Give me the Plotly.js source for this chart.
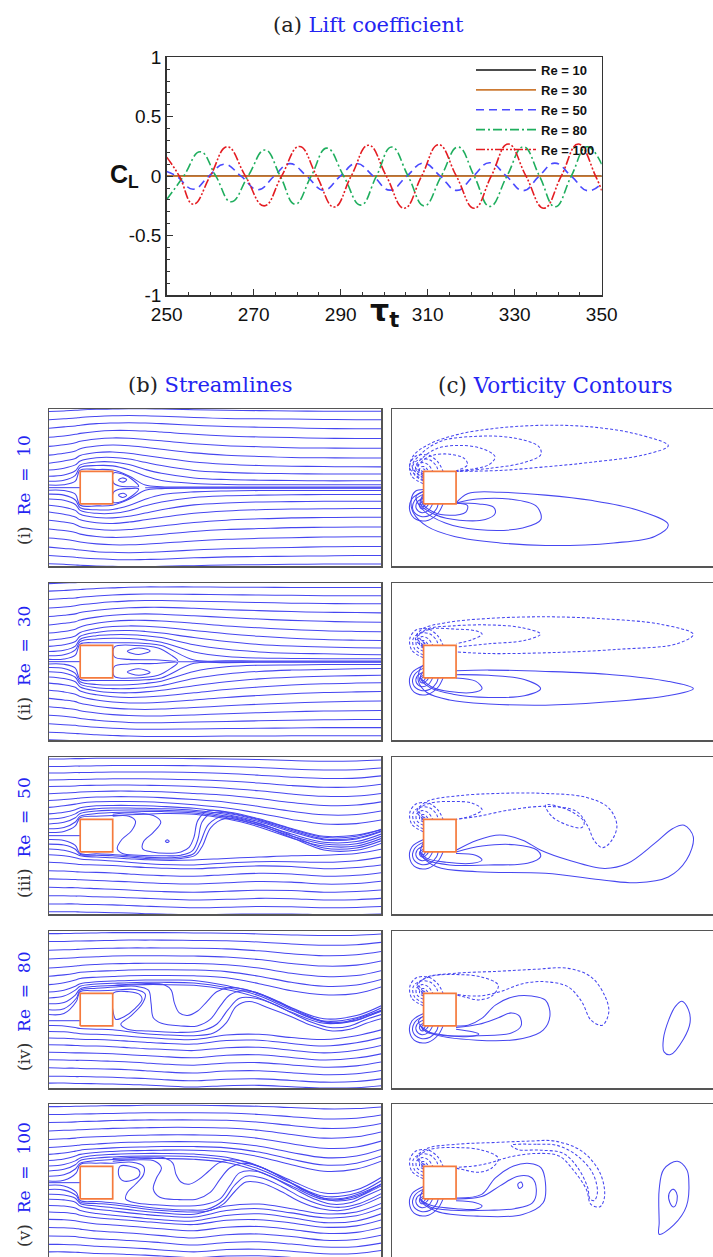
<!DOCTYPE html>
<html><head><meta charset="utf-8">
<script src="https://cdn.plot.ly/plotly-3.0.1.min.js"></script>
<style>html,body{margin:0;padding:0;background:#fff;overflow:hidden}#chart{width:713px;height:1257px}</style>
</head><body><div id="chart"></div>
<script>
// ================= (a) Lift coefficient data =================
const tau_Re10 = [250, 350];
const cl_Re10 = [0, 0];
const tau_Re30 = [250, 350];
const cl_Re30 = [0, 0];
const tau_Re50 = [250, 252.3, 256.1, 259.7, 263.2, 267.1, 271.0, 274.7, 278.3, 282.2, 286.1, 289.9, 293.6, 297.5, 301.3, 305.2, 309.0, 312.9, 316.7, 320.5, 324.2, 328.1, 332.0, 335.6, 339.2, 343.0, 346.8, 350];
const cl_Re50 = [0.04, 0, -0.11, 0, 0.1, 0, -0.115, 0, 0.105, 0, -0.118, 0, 0.107, 0, -0.118, 0, 0.11, 0, -0.12, 0, 0.113, 0, -0.122, 0, 0.11, 0, -0.123, -0.06];
const tau_Re80 = [250, 253.9, 257.7, 261.3, 264.8, 268.7, 272.6, 276.1, 279.5, 283.2, 286.8, 290.7, 294.6, 298.2, 301.7, 305.5, 309.2, 313.1, 317.0, 320.7, 324.3, 328.2, 332.0, 335.7, 339.3, 343.0, 346.6, 350];
const cl_Re80 = [-0.196, 0, 0.205, 0, -0.216, 0, 0.22, 0, -0.236, 0, 0.236, 0, -0.244, 0, 0.245, 0, -0.25, 0, 0.245, 0, -0.255, 0, 0.247, 0, -0.258, 0, 0.247, 0.1];
const tau_Re100 = [250, 252.9, 256.1, 260.0, 263.9, 268.1, 272.4, 276.4, 280.5, 284.5, 288.5, 292.4, 296.4, 300.5, 304.6, 308.6, 312.5, 316.6, 320.7, 324.6, 328.5, 332.6, 336.7, 340.7, 344.6, 348.6, 350];
const cl_Re100 = [0.16, 0, -0.236, 0, 0.247, 0, -0.25, 0, 0.25, 0, -0.26, 0, 0.26, 0, -0.27, 0, 0.265, 0, -0.27, 0, 0.27, 0, -0.27, 0, 0.27, 0, -0.12];
const seriesNames = ['Re = 10', 'Re = 30', 'Re = 50', 'Re = 80', 'Re = 100'];
const xTickVals = [250, 270, 290, 310, 330, 350];
const yTickVals = [-1, -0.5, 0, 0.5, 1];
const yTickText = ['-1', '-0.5', '0', '0.5', '1'];

// ================= panel labels =================
const rowRoman = ['(i)', '(ii)', '(iii)', '(iv)', '(v)'];
const rowRe = [10, 30, 50, 80, 100];

// ================= body (square cylinder, x/D, y/D) =================
const bodyX = [-0.5, 0.5, 0.5, -0.5, -0.5];
const bodyY = [-0.5, -0.5, 0.5, 0.5, -0.5];

// ================= (b) streamlines (x/D, y/D) =================
const knotX = [-1.46, -1.0, -0.65, -0.5, 0, 0.5, 1, 1.5, 2, 3, 4, 5, 6, 7, 8, 8.76];

// Re = 10 (steady, symmetric: upper half)
const s1Upper = [
 [0.08,0.09,0.2,0.54,0.56,0.54,0.36,0.08,0.03,0.02,0.02,0.02,0.02,0.02,0.02,0.02],
 [0.2,0.23,0.38,0.62,0.68,0.67,0.55,0.36,0.22,0.13,0.1,0.09,0.09,0.09,0.09,0.09],
 [0.35,0.39,0.52,0.7,0.79,0.79,0.71,0.56,0.44,0.3,0.25,0.23,0.22,0.21,0.21,0.21],
 [0.54,0.6,0.7,0.82,0.92,0.93,0.88,0.78,0.68,0.53,0.47,0.44,0.43,0.42,0.42,0.42],
 [0.75,0.82,0.9,0.99,1.08,1.1,1.06,0.99,0.92,0.79,0.72,0.68,0.66,0.65,0.64,0.64],
 [1.0,1.06,1.13,1.2,1.28,1.31,1.29,1.24,1.18,1.07,1.0,0.96,0.93,0.92,0.91,0.91],
 [1.27,1.32,1.38,1.43,1.5,1.53,1.52,1.48,1.44,1.35,1.29,1.26,1.23,1.22,1.21,1.21],
 [1.55,1.59,1.64,1.67,1.73,1.76,1.76,1.74,1.71,1.64,1.59,1.56,1.54,1.52,1.51,1.51],
 [1.83,1.87,1.9,1.92,1.97,1.99,2.0,1.99,1.97,1.92,1.88,1.86,1.84,1.82,1.81,1.81],
 [2.09,2.12,2.14,2.16,2.19,2.21,2.22,2.21,2.2,2.16,2.13,2.12,2.11,2.1,2.09,2.09],
 [2.34,2.36,2.38,2.39,2.41,2.42,2.43,2.43,2.42,2.4,2.38,2.37,2.36,2.35,2.35,2.35]
];
const s1EddyX = [[0.68,0.8,0.93,0.82,0.68],[0.52,0.8,1.1,1.3,1.0,0.7,0.52,0.52]];
const s1EddyY = [[0.23,0.3,0.24,0.17,0.23],[0.45,0.42,0.25,0.04,0.03,0.05,0.15,0.45]];
const s1AxisX = [[-1.46,-0.5],[1.5,8.76]];
const s1AxisY = [[0,0],[0,0]];

// Re = 30 (steady, symmetric: upper half)
const s2Upper = [
 [0.07,0.08,0.2,0.54,0.58,0.58,0.58,0.56,0.5,0.05,0.03,0.02,0.02,0.02,0.02,0.02],
 [0.18,0.21,0.36,0.62,0.7,0.72,0.71,0.67,0.6,0.3,0.16,0.11,0.1,0.09,0.09,0.09],
 [0.31,0.35,0.48,0.69,0.8,0.83,0.83,0.8,0.74,0.52,0.38,0.3,0.26,0.24,0.22,0.21],
 [0.47,0.52,0.62,0.78,0.9,0.95,0.96,0.93,0.88,0.74,0.62,0.53,0.48,0.45,0.43,0.42],
 [0.66,0.71,0.79,0.9,1.02,1.08,1.1,1.09,1.06,0.96,0.86,0.78,0.72,0.68,0.66,0.65],
 [0.88,0.93,1.0,1.07,1.18,1.24,1.27,1.27,1.25,1.18,1.1,1.04,0.99,0.95,0.93,0.92],
 [1.13,1.18,1.23,1.28,1.37,1.43,1.46,1.47,1.46,1.41,1.36,1.31,1.27,1.24,1.22,1.21],
 [1.39,1.43,1.47,1.51,1.58,1.63,1.66,1.67,1.67,1.64,1.6,1.57,1.54,1.52,1.51,1.5],
 [1.65,1.68,1.72,1.75,1.8,1.84,1.87,1.88,1.88,1.86,1.84,1.82,1.8,1.79,1.78,1.78],
 [1.91,1.94,1.96,1.98,2.02,2.05,2.07,2.08,2.08,2.07,2.06,2.05,2.04,2.03,2.03,2.03],
 [2.17,2.19,2.21,2.22,2.25,2.27,2.29,2.3,2.3,2.3,2.29,2.29,2.28,2.28,2.28,2.28],
 [2.4,2.42,2.43,2.44,2.46,2.47,2.48,2.48,2.48,2.48,2.47,2.47,2.47,2.47,2.47,2.47]
];
const s2EddyX = [[0.95,1.3,1.65,1.3,0.95],[0.55,1.2,1.9,2.3,2.5,1.8,1.0,0.55,0.55]];
const s2EddyY = [[0.32,0.42,0.33,0.22,0.32],[0.45,0.5,0.42,0.2,0.03,0.06,0.07,0.15,0.45]];
const s2AxisX = [[-1.46,-0.5],[2.5,8.76]];
const s2AxisY = [[0,0],[0,0]];

// Re = 50
const s3Upper = [
 [2.36,2.36,2.37,2.37,2.38,2.38,2.38,2.38,2.38,2.37,2.36,2.34,2.31,2.29,2.3,2.33],
 [2.13,2.13,2.14,2.14,2.15,2.16,2.16,2.16,2.16,2.15,2.13,2.1,2.05,2.02,2.03,2.08],
 [1.93,1.93,1.94,1.94,1.95,1.96,1.96,1.96,1.96,1.94,1.91,1.86,1.8,1.76,1.77,1.84],
 [1.71,1.72,1.73,1.73,1.74,1.75,1.75,1.75,1.74,1.72,1.68,1.62,1.54,1.49,1.5,1.58],
 [1.51,1.52,1.53,1.54,1.55,1.56,1.56,1.55,1.54,1.51,1.46,1.38,1.28,1.21,1.22,1.3],
 [1.29,1.31,1.33,1.34,1.36,1.37,1.37,1.36,1.35,1.3,1.24,1.14,1.02,0.93,0.94,1.04],
 [1.08,1.11,1.14,1.16,1.19,1.2,1.2,1.19,1.17,1.11,1.03,0.9,0.75,0.64,0.65,0.76],
 [0.87,0.92,0.97,1.0,1.04,1.05,1.05,1.04,1.02,0.95,0.85,0.69,0.5,0.36,0.37,0.48],
 [0.67,0.72,0.8,0.86,0.92,0.93,0.93,0.92,0.9,0.84,0.72,0.5,0.2,-0.05,-0.02,0.2],
 [0.51,0.56,0.67,0.76,0.83,0.85,0.85,0.84,0.83,0.78,0.65,0.43,0.12,-0.13,-0.1,0.12],
 [0.36,0.41,0.55,0.68,0.76,0.78,0.79,0.79,0.78,0.74,0.6,0.37,0.05,-0.2,-0.18,0.05],
 [0.21,0.25,0.42,0.6,0.68,0.71,0.73,0.74,0.74,0.7,0.56,0.32,-0.01,-0.26,-0.25,-0.02],
 [0.1,0.13,0.3,0.55,0.6,0.62,0.64,0.66,0.68,0.66,0.52,0.27,-0.07,-0.32,-0.32,-0.09]
];
const s3Lower = [
 [-0.41,-0.45,-0.55,-0.62,-0.66,-0.68,-0.71,-0.74,-0.76,-0.75,-0.7,-0.66,-0.62,-0.6,-0.55,-0.42],
 [-0.59,-0.62,-0.68,-0.72,-0.75,-0.78,-0.82,-0.86,-0.89,-0.9,-0.84,-0.8,-0.8,-0.82,-0.77,-0.66],
 [-0.82,-0.84,-0.87,-0.89,-0.9,-0.92,-0.95,-0.98,-1.0,-1.02,-0.97,-0.93,-0.95,-1.02,-0.98,-0.9],
 [-1.08,-1.09,-1.11,-1.12,-1.13,-1.15,-1.18,-1.21,-1.23,-1.25,-1.2,-1.16,-1.18,-1.25,-1.22,-1.14],
 [-1.33,-1.34,-1.35,-1.36,-1.38,-1.4,-1.42,-1.45,-1.47,-1.49,-1.45,-1.41,-1.43,-1.49,-1.47,-1.4],
 [-1.59,-1.6,-1.6,-1.61,-1.63,-1.65,-1.67,-1.7,-1.72,-1.74,-1.71,-1.68,-1.69,-1.74,-1.72,-1.67],
 [-1.85,-1.85,-1.86,-1.86,-1.88,-1.89,-1.91,-1.93,-1.95,-1.98,-1.96,-1.93,-1.94,-1.98,-1.97,-1.93],
 [-2.1,-2.1,-2.1,-2.11,-2.12,-2.13,-2.15,-2.17,-2.19,-2.22,-2.2,-2.18,-2.19,-2.22,-2.21,-2.18],
 [-2.34,-2.34,-2.34,-2.35,-2.36,-2.37,-2.38,-2.4,-2.41,-2.43,-2.42,-2.41,-2.41,-2.43,-2.43,-2.41]
];
const s3CurvesX = [
 [-1.46,-0.5],
 [-1.46,-1.0,-0.65,-0.5,0,0.5,1,1.5,2,2.6,3.0,3.2,3.45,3.9,5,6,7,8,8.76],
 [-1.46,-1.0,-0.65,-0.5,0,0.5,1,1.5,2,2.6,3.05,3.27,3.52,3.95,5,6,7,8,8.76],
 [0.5,1.0,1.2,1.08,0.78,0.64,0.8,1.3,2.0,2.6,2.95,3.12,3.25,3.55,4.2,5.0,6.0,7.0,8.0,8.76],
 [0.5,1.2,1.75,1.98,1.75,1.45,1.42,1.7,2.2,2.6,2.85,3.0,3.12,3.42,4.1,5.0,6.0,7.0,8.0,8.76],
 [2.12,2.18,2.24,2.18,2.12]
];
const s3CurvesY = [
 [0,0],
 [-0.12,-0.15,-0.3,-0.55,-0.56,-0.58,-0.62,-0.66,-0.68,-0.66,-0.55,-0.2,0.35,0.6,0.38,0.0,-0.38,-0.38,-0.16],
 [-0.26,-0.29,-0.42,-0.58,-0.6,-0.62,-0.66,-0.7,-0.72,-0.7,-0.6,-0.3,0.25,0.52,0.33,-0.06,-0.44,-0.45,-0.24],
 [0.6,0.6,0.45,0.15,-0.12,-0.4,-0.55,-0.6,-0.62,-0.6,-0.47,-0.12,0.42,0.7,0.66,0.47,0.16,-0.1,-0.07,0.14],
 [0.66,0.7,0.62,0.42,0.1,-0.18,-0.4,-0.5,-0.54,-0.5,-0.36,-0.05,0.47,0.76,0.72,0.52,0.22,-0.02,0.02,0.18],
 [-0.17,-0.13,-0.17,-0.21,-0.17]
];

// Re = 80
const s4Upper = [
 [2.34,2.34,2.35,2.35,2.36,2.37,2.37,2.37,2.37,2.36,2.35,2.33,2.3,2.28,2.29,2.33],
 [2.1,2.1,2.11,2.11,2.12,2.13,2.14,2.14,2.14,2.13,2.12,2.08,2.02,1.98,2.0,2.07],
 [1.83,1.84,1.85,1.86,1.88,1.89,1.9,1.9,1.9,1.89,1.87,1.81,1.72,1.66,1.69,1.79],
 [1.56,1.58,1.6,1.61,1.63,1.65,1.66,1.66,1.66,1.65,1.62,1.54,1.42,1.34,1.37,1.5],
 [1.28,1.31,1.34,1.36,1.39,1.41,1.42,1.43,1.43,1.42,1.38,1.28,1.12,1.02,1.05,1.2],
 [1.03,1.07,1.12,1.15,1.18,1.2,1.22,1.23,1.23,1.22,1.17,1.03,0.84,0.72,0.76,0.93],
 [0.77,0.83,0.91,0.96,1.0,1.02,1.04,1.05,1.05,1.04,0.98,0.8,0.58,0.46,0.5,0.7],
 [0.54,0.6,0.72,0.8,0.86,0.88,0.9,0.91,0.91,0.9,0.74,0.5,0.06,-0.28,-0.18,0.12],
 [0.36,0.42,0.6,0.72,0.79,0.81,0.83,0.84,0.84,0.82,0.68,0.43,-0.01,-0.35,-0.25,0.05],
 [0.18,0.22,0.45,0.64,0.72,0.74,0.76,0.77,0.77,0.75,0.62,0.36,-0.08,-0.42,-0.32,-0.03]
];
const s4Lower = [
 [-0.67,-0.68,-0.72,-0.74,-0.76,-0.78,-0.82,-0.86,-0.89,-0.92,-0.78,-0.76,-0.86,-0.92,-0.8,-0.62],
 [-0.87,-0.88,-0.9,-0.91,-0.92,-0.94,-0.97,-1.0,-1.03,-1.06,-0.95,-0.94,-1.04,-1.12,-1.02,-0.86],
 [-1.08,-1.09,-1.1,-1.11,-1.12,-1.14,-1.17,-1.2,-1.22,-1.26,-1.17,-1.16,-1.25,-1.33,-1.25,-1.1],
 [-1.31,-1.32,-1.33,-1.33,-1.34,-1.36,-1.39,-1.41,-1.44,-1.48,-1.4,-1.39,-1.47,-1.55,-1.49,-1.36],
 [-1.54,-1.55,-1.56,-1.56,-1.57,-1.59,-1.61,-1.64,-1.67,-1.71,-1.64,-1.63,-1.7,-1.77,-1.73,-1.61],
 [-1.79,-1.8,-1.8,-1.81,-1.82,-1.83,-1.85,-1.88,-1.91,-1.95,-1.89,-1.88,-1.94,-2.0,-1.97,-1.87],
 [-2.05,-2.05,-2.06,-2.06,-2.07,-2.08,-2.1,-2.12,-2.15,-2.19,-2.14,-2.13,-2.18,-2.23,-2.21,-2.13],
 [-2.26,-2.26,-2.27,-2.27,-2.28,-2.29,-2.3,-2.32,-2.34,-2.38,-2.34,-2.33,-2.37,-2.41,-2.4,-2.34]
];
const s4CurvesX = [
 [-1.46,-0.5],
 [0.52,1.0,1.35,1.4,1.2,0.85,0.6,0.52,0.52],
 [-1.46,-1.0,-0.62,-0.5,0,0.5,1.2,1.5,1.42,1.05,0.75,0.95,1.6,2.5,3.2,3.7,4.05,4.4,4.9,5.5,6.0,6.6,7.2,7.8,8.3,8.76],
 [-1.46,-1.0,-0.62,-0.5,0,0.6,1.2,1.6,1.68,1.75,2.0,2.6,3.1,3.5,3.8,4.1,4.5,5.0,5.6,6.2,6.8,7.3,7.9,8.4,8.76],
 [0.5,1.4,2.1,2.3,2.4,2.55,2.8,3.1,3.4,3.7,4.1,4.6,5.2,5.8,6.4,7.0,7.6,8.2,8.76],
 [-1.46,-1.0,-0.62,-0.5,0,0.5,1.0,1.5,2,3,3.6,4.0,4.3,4.7,5.3,6.0,6.6,7.2,7.8,8.3,8.76]
];
const s4CurvesY = [
 [-0.34,-0.34],
 [0.51,0.55,0.45,0.3,0.05,-0.22,-0.3,-0.1,0.51],
 [-0.15,-0.12,0.25,0.55,0.58,0.6,0.62,0.48,0.2,-0.2,-0.45,-0.6,-0.66,-0.7,-0.66,-0.45,0.0,0.35,0.35,0.15,-0.1,-0.38,-0.55,-0.5,-0.3,-0.15],
 [0.0,0.03,0.35,0.6,0.66,0.7,0.72,0.6,0.2,-0.25,-0.42,-0.5,-0.5,-0.3,0.1,0.45,0.58,0.5,0.25,-0.05,-0.3,-0.42,-0.36,-0.18,-0.05],
 [0.74,0.8,0.76,0.6,0.2,-0.1,-0.18,-0.05,0.25,0.55,0.68,0.62,0.4,0.12,-0.18,-0.38,-0.38,-0.22,-0.02],
 [-0.49,-0.5,-0.56,-0.58,-0.6,-0.62,-0.68,-0.74,-0.77,-0.8,-0.72,-0.4,0.1,0.25,0.05,-0.22,-0.48,-0.65,-0.6,-0.42,-0.28]
];

// Re = 100
const s5Upper = [
 [2.34,2.34,2.35,2.35,2.36,2.37,2.37,2.38,2.38,2.38,2.37,2.35,2.31,2.27,2.28,2.33],
 [2.1,2.1,2.11,2.11,2.12,2.13,2.14,2.15,2.15,2.15,2.14,2.1,2.03,1.96,1.98,2.08],
 [1.85,1.86,1.87,1.88,1.89,1.91,1.92,1.93,1.93,1.93,1.92,1.86,1.76,1.67,1.7,1.82],
 [1.59,1.61,1.62,1.63,1.65,1.67,1.68,1.69,1.7,1.7,1.68,1.61,1.48,1.37,1.41,1.56],
 [1.33,1.35,1.37,1.39,1.41,1.43,1.45,1.46,1.47,1.47,1.45,1.36,1.2,1.06,1.1,1.28],
 [1.08,1.11,1.14,1.16,1.19,1.22,1.24,1.25,1.26,1.26,1.23,1.12,0.93,0.77,0.82,1.02],
 [0.87,0.91,0.97,1.0,1.04,1.07,1.09,1.1,1.11,1.11,1.07,0.94,0.72,0.54,0.6,0.82],
 [0.68,0.73,0.82,0.87,0.93,0.96,0.98,0.99,1.0,1.0,0.95,0.8,0.55,0.35,0.42,0.66],
 [0.51,0.56,0.67,0.76,0.84,0.87,0.89,0.9,0.9,0.88,0.78,0.5,0.06,-0.32,-0.22,0.16],
 [0.36,0.41,0.55,0.68,0.76,0.79,0.81,0.82,0.82,0.8,0.7,0.42,-0.02,-0.42,-0.32,0.06],
 [0.2,0.24,0.42,0.6,0.68,0.71,0.73,0.74,0.74,0.72,0.62,0.34,-0.1,-0.52,-0.42,-0.04]
];
const s5Lower = [
 [-0.36,-0.38,-0.48,-0.64,-0.72,-0.77,-0.83,-0.89,-0.93,-0.97,-0.72,-0.66,-0.8,-0.96,-0.9,-0.64],
 [-0.51,-0.53,-0.6,-0.72,-0.82,-0.87,-0.93,-0.98,-1.02,-1.06,-0.86,-0.8,-0.93,-1.08,-1.02,-0.78],
 [-0.7,-0.72,-0.78,-0.86,-0.95,-1.0,-1.05,-1.1,-1.14,-1.18,-1.01,-0.96,-1.08,-1.23,-1.18,-0.96],
 [-0.9,-0.92,-0.96,-1.0,-1.08,-1.12,-1.16,-1.2,-1.24,-1.29,-1.16,-1.14,-1.24,-1.37,-1.33,-1.15],
 [-1.13,-1.14,-1.17,-1.2,-1.27,-1.3,-1.34,-1.38,-1.42,-1.48,-1.37,-1.35,-1.44,-1.56,-1.53,-1.38],
 [-1.38,-1.39,-1.41,-1.43,-1.49,-1.52,-1.55,-1.59,-1.63,-1.7,-1.6,-1.58,-1.66,-1.77,-1.75,-1.62],
 [-1.64,-1.65,-1.66,-1.68,-1.73,-1.75,-1.78,-1.81,-1.85,-1.92,-1.84,-1.82,-1.89,-1.98,-1.97,-1.86],
 [-1.9,-1.9,-1.91,-1.92,-1.96,-1.98,-2.0,-2.03,-2.07,-2.13,-2.06,-2.05,-2.11,-2.19,-2.18,-2.09],
 [-2.13,-2.13,-2.14,-2.15,-2.18,-2.19,-2.21,-2.23,-2.26,-2.31,-2.26,-2.25,-2.3,-2.37,-2.37,-2.3],
 [-2.34,-2.34,-2.35,-2.36,-2.38,-2.39,-2.4,-2.41,-2.43,-2.46,-2.43,-2.42,-2.46,-2.5,-2.5,-2.46]
];
const s5CurvesX = [
 [-1.46,-0.5],
 [0.73,1.05,1.3,1.32,1.12,0.82,0.68,0.73],
 [-1.46,-1.0,-0.62,-0.5,0,0.5,1.1,1.45,1.45,1.2,0.95,0.9,1.2,1.8,2.6,3.3,3.8,4.1,4.4,4.9,5.5,6.1,6.7,7.2,7.8,8.3,8.76],
 [0.5,1.2,1.8,2.0,1.85,1.75,1.95,2.5,3.1,3.5,3.8,4.1,4.5,5.0,5.6,6.2,6.8,7.3,7.9,8.4,8.76],
 [0.5,1.4,2.1,2.35,2.45,2.6,2.85,3.15,3.45,3.75,4.1,4.6,5.2,5.8,6.4,7.0,7.6,8.2,8.76],
 [-1.46,-1.0,-0.62,-0.5,0,0.5,1.0,1.5,2.0,2.8,3.4,3.9,4.25,4.6,5.1,5.7,6.3,6.9,7.5,8.1,8.76],
 [-1.46,-1.0,-0.62,-0.5,0,0.5,1.0,1.5,2.0,2.8,3.4,3.9,4.25,4.6,5.1,5.7,6.3,6.9,7.5,8.1,8.76]
];
const s5CurvesY = [
 [0,0],
 [0.51,0.5,0.4,0.22,0.08,0.06,0.25,0.51],
 [0.05,0.07,0.3,0.56,0.6,0.6,0.63,0.5,0.25,-0.05,-0.3,-0.5,-0.62,-0.68,-0.72,-0.68,-0.5,-0.1,0.3,0.35,0.12,-0.2,-0.5,-0.66,-0.62,-0.4,-0.2],
 [0.66,0.7,0.66,0.45,0.15,-0.2,-0.45,-0.52,-0.5,-0.3,0.1,0.45,0.6,0.5,0.22,-0.12,-0.42,-0.56,-0.5,-0.28,-0.1],
 [0.74,0.78,0.76,0.6,0.25,0.02,-0.05,0.1,0.35,0.6,0.7,0.64,0.42,0.1,-0.25,-0.48,-0.48,-0.3,-0.05],
 [-0.08,-0.1,-0.3,-0.55,-0.58,-0.62,-0.68,-0.75,-0.8,-0.84,-0.82,-0.55,-0.08,0.2,0.14,-0.12,-0.45,-0.68,-0.76,-0.64,-0.34],
 [-0.21,-0.23,-0.4,-0.6,-0.64,-0.68,-0.74,-0.81,-0.86,-0.9,-0.88,-0.66,-0.28,0.02,-0.02,-0.28,-0.6,-0.8,-0.86,-0.72,-0.44]
];

// ================= (c) vorticity contours (x/D, y/D) =================
// leading-edge clusters (negative at top-left corner, positive at bottom-left corner)
const cornerNegX = [[-0.5,-0.56,-0.54,-0.48,-0.44],[-0.5,-0.62,-0.6,-0.5,-0.4,-0.35],[-0.5,-0.7,-0.72,-0.55,-0.35,-0.22],[-0.5,-0.78,-0.82,-0.6,-0.3,-0.1,-0.05],[-0.5,-0.86,-0.92,-0.72,-0.35,-0.05,0.1]];
const cornerNegY = [[0.47,0.52,0.57,0.57,0.5],[0.42,0.5,0.62,0.65,0.58,0.5],[0.32,0.45,0.65,0.77,0.7,0.5],[0.2,0.4,0.7,0.88,0.85,0.65,0.5],[0.12,0.35,0.72,0.98,1.0,0.78,0.5]];
const cornerPosX = [[-0.5,-0.56,-0.54,-0.48,-0.44],[-0.5,-0.62,-0.6,-0.5,-0.4,-0.35],[-0.5,-0.7,-0.72,-0.55,-0.35,-0.22],[-0.5,-0.78,-0.82,-0.6,-0.3,-0.1,-0.05],[-0.5,-0.86,-0.92,-0.72,-0.35,-0.05,0.1]];
const cornerPosY = [[-0.47,-0.52,-0.57,-0.57,-0.5],[-0.42,-0.5,-0.62,-0.65,-0.58,-0.5],[-0.32,-0.45,-0.65,-0.77,-0.7,-0.5],[-0.2,-0.4,-0.7,-0.88,-0.85,-0.65,-0.5],[-0.12,-0.35,-0.72,-0.98,-1.0,-0.78,-0.5]];

const v1NegX = [[-0.5,-0.92,-0.8,-0.3,0.6,1.85,3.25,4.65,6.05,7.03,6.33,4.65,3.25,1.85,0.5],[-0.5,-0.85,-0.6,0.03,1.15,2.27,3.04,3.11,2.55,1.57,0.5],[-0.5,-0.75,-0.55,-0.1,0.6,1.3,1.7,1.5,0.5],[-0.5,-0.68,-0.5,-0.2,0.3,0.75,0.85,0.5]];
const v1NegY = [[0.22,0.6,1.0,1.35,1.65,1.84,1.92,1.87,1.65,1.29,1.02,0.78,0.64,0.53,0.5],[0.28,0.65,1.02,1.43,1.58,1.53,1.27,1.02,0.76,0.6,0.5],[0.35,0.62,0.9,1.2,1.3,1.2,0.95,0.7,0.52],[0.4,0.6,0.85,1.0,1.03,0.9,0.7,0.52]];
const v1PosX = [[-0.5,-0.75,-0.88,-0.81,-0.39,0.45,1.85,3.25,5.35,6.61,7.03,6.05,4.65,3.25,1.85,0.87,0.5],[-0.5,-0.73,-0.52,0.17,1.15,2.55,3.11,2.97,2.13,1.15,0.5],[-0.5,-0.6,-0.1,0.6,1.4,1.7,1.65,1.2,0.5],[-0.5,-0.55,-0.2,0.3,0.8,0.85,0.5]];
const v1PosY = [[-0.06,-0.11,-0.37,-0.78,-1.19,-1.5,-1.7,-1.78,-1.7,-1.5,-1.14,-0.68,-0.39,-0.23,-0.14,-0.18,-0.47],[-0.11,-0.27,-0.68,-1.09,-1.29,-1.24,-0.98,-0.57,-0.35,-0.35,-0.47],[-0.2,-0.5,-0.85,-1.0,-0.98,-0.8,-0.6,-0.5,-0.47],[-0.25,-0.45,-0.75,-0.85,-0.75,-0.55,-0.48]];

const v2NegX = [[-0.5,-0.75,-0.55,0.2,1.5,3.25,5.0,6.8,7.8,7.3,5.5,3.5,1.5,0.5],[-0.5,-0.7,-0.4,0.4,1.5,2.5,3.1,2.6,1.5,0.5],[-0.45,-0.65,-0.3,0.5,1.1,1.3,1.0,0.5]];
const v2NegY = [[0.45,0.7,1.0,1.2,1.33,1.38,1.32,1.15,0.84,0.55,0.38,0.28,0.25,0.3],[0.5,0.75,1.0,1.1,1.13,1.05,0.85,0.65,0.55,0.45],[0.55,0.8,1.0,1.0,0.95,0.85,0.68,0.55]];
const v2PosX = [[-0.5,-0.6,-0.66,-0.4,0.3,1.5,3.25,5.0,7.0,7.8,7.0,5.3,3.25,1.5,0.5],[-0.5,-0.6,-0.3,0.4,1.5,2.6,3.1,2.6,1.5,0.5],[-0.55,-0.2,0.3,1.0,1.3,1.1,0.5]];
const v2PosY = [[-0.1,-0.2,-0.6,-0.95,-1.18,-1.3,-1.34,-1.25,-1.05,-0.83,-0.6,-0.4,-0.3,-0.26,-0.28],[-0.3,-0.5,-0.8,-1.0,-1.1,-1.05,-0.83,-0.55,-0.42,-0.4],[-0.55,-0.8,-0.92,-0.95,-0.83,-0.6,-0.5]];

const v3NegX = [[-0.5,-0.7,-0.4,0.5,1.8,3.2,4.5,5.2,5.45,5.25,5.0,4.75,4.55,4.2,3.3,2.2,1.2,0.5],[-0.5,-0.65,-0.3,0.4,1.0,1.3,1.0,0.5],[3.25,3.95,4.44,4.37,3.95,3.46,3.25]];
const v3NegY = [[0.5,0.75,1.05,1.22,1.3,1.3,1.18,0.85,0.3,-0.2,-0.37,-0.15,0.3,0.75,0.9,0.8,0.6,0.5],[0.55,0.8,1.0,1.05,1.0,0.8,0.62,0.5],[0.94,0.79,0.42,0.25,0.32,0.58,0.94]];
const v3PosX = [[-0.5,-0.59,-0.1,1.15,3.25,5.07,6.05,7.03,7.59,7.8,7.52,7.17,6.61,5.77,5.07,3.95,3.11,2.55,1.85,1.15,0.5],[-0.6,-0.4,0.3,1.5,2.7,3.1,3.0,2.3,1.3,0.5],[-0.55,-0.4,0.2,1.0,1.3,1.1,0.5]];
const v3PosY = [[-0.2,-0.55,-0.96,-1.11,-1.16,-1.37,-1.45,-1.27,-0.75,-0.04,0.32,0.22,-0.24,-0.86,-1.01,-0.75,-0.45,-0.14,0.02,-0.14,-0.45],[-0.55,-0.75,-0.9,-0.9,-0.85,-0.65,-0.45,-0.28,-0.32,-0.5],[-0.55,-0.7,-0.82,-0.85,-0.75,-0.6,-0.55]];

const v4NegX = [[-0.5,-0.7,-0.4,0.5,1.8,2.9,3.95,4.65,5.07,5.2,5.0,4.65,4.37,3.95,3.25,2.55,1.85,1.2,0.5],[-0.5,-0.65,-0.3,0.5,1.3,1.8,1.6,1.2,0.8,0.5]];
const v4NegY = [[0.5,0.75,1.0,1.12,1.18,1.24,1.27,1.01,0.44,-0.07,-0.48,-0.32,0.24,0.7,0.86,0.8,0.55,0.42,0.47],[0.55,0.8,1.02,1.08,1.0,0.75,0.42,0.3,0.38,0.45]];
const v4PosX = [[-0.5,-0.66,-0.25,1.15,2.55,3.18,3.39,3.25,2.83,2.27,1.71,1.29,0.87,0.5],[-0.6,-0.4,0.2,1.2,2.2,2.5,2.45,2.2,1.8,1.2,0.5],[-0.55,-0.3,0.3,1.0,1.2,1.0,0.5],[7.45,7.65,7.7,7.5,7.1,6.9,6.88,7.05,7.25,7.45]];
const v4PosY = [[-0.2,-0.37,-0.73,-0.94,-0.89,-0.63,-0.17,0.29,0.42,0.4,0.14,-0.27,-0.48,-0.5],[-0.5,-0.7,-0.8,-0.8,-0.72,-0.5,-0.2,-0.1,-0.25,-0.45,-0.55],[-0.6,-0.7,-0.8,-0.82,-0.75,-0.68,-0.6],[0.26,0.0,-0.4,-0.9,-1.38,-1.3,-0.9,-0.3,0.1,0.26]];

const v5NegX = [[-0.5,-0.7,-0.4,0.5,1.8,2.8,3.53,4.37,4.93,5.07,4.93,4.65,4.51,4.09,3.67,3.0,2.2,1.3,0.5],[2.2,3.0,3.6,4.2,4.7,4.85,4.75,4.62,4.55,4.25,3.8,3.1,2.4,2.2],[-0.5,-0.65,-0.3,0.5,1.3,1.8,1.6,1.2,0.8,0.5]];
const v5NegY = [[0.5,0.78,1.05,1.18,1.24,1.28,1.28,0.97,0.3,-0.42,-0.74,-0.67,-0.21,0.41,0.82,0.9,0.8,0.55,0.47],[1.15,1.18,1.15,0.85,0.3,-0.3,-0.55,-0.5,-0.15,0.45,0.9,1.0,1.02,1.15],[0.55,0.8,1.02,1.08,1.0,0.75,0.45,0.32,0.38,0.45]];
const v5PosX = [[-0.5,-0.6,-0.1,1.15,2.55,3.18,3.25,3.11,2.76,2.27,1.71,1.29,0.5],[-0.6,-0.3,0.4,1.5,2.3,2.85,2.97,2.83,2.41,1.85,1.29,0.5],[-0.55,-0.2,0.5,1.1,1.3,1.1,0.5],[2.4,2.5,2.55,2.45,2.4],[7.31,7.6,7.66,7.59,7.2,6.75,6.75,6.75,6.89,7.31],[7.17,7.28,7.3,7.2,7.08,7.05,7.17]];
const v5PosY = [[-0.2,-0.52,-0.88,-1.03,-0.98,-0.62,0.0,0.46,0.59,0.51,0.15,-0.36,-0.47],[-0.5,-0.75,-0.85,-0.85,-0.8,-0.62,-0.21,0.15,0.2,-0.1,-0.43,-0.5],[-0.58,-0.72,-0.8,-0.82,-0.72,-0.62,-0.56],[-0.05,0.02,-0.1,-0.18,-0.05],[0.66,0.4,0.1,-0.72,-1.3,-1.59,-1.24,-0.21,0.41,0.66],[-0.2,-0.3,-0.55,-0.75,-0.62,-0.35,-0.2]];

// ================= build =================
const W = 713, H = 1257;
const fx = px => px / W;
const fy = py => 1 - py / H;
const BLUE = '#4646f0';
const TITLE_BLUE = '#2424f2';
const SERIF = 'DejaVu Serif, Liberation Serif, serif';
const SANS = 'Liberation Sans, Arial, sans-serif';

const traces = [];
const liftX = [tau_Re10, tau_Re30, tau_Re50, tau_Re80, tau_Re100];
const liftY = [cl_Re10, cl_Re30, cl_Re50, cl_Re80, cl_Re100];
const liftStyle = [
  {color:'#111111', dash:'solid', shape:'linear'},
  {color:'#cd7b34', dash:'solid', shape:'linear'},
  {color:'#4a4aff', dash:'8px,5px', shape:'spline'},
  {color:'#1fae5e', dash:'9px,3px,2px,3px', shape:'spline'},
  {color:'#e41c22', dash:'9px,2px,2px,2px,2px,2px', shape:'spline'}
];
liftX.forEach((xs, i) => {
  traces.push({type:'scatter', mode:'lines', x:xs, y:liftY[i], name:seriesNames[i], xaxis:'x', yaxis:'y',
    hoverinfo:'skip', line:{color:liftStyle[i].color, width:1.6, dash:liftStyle[i].dash, shape:liftStyle[i].shape, smoothing:1.3}});
});

function addCurve(n, xs, ys, dash) {
  traces.push({type:'scatter', mode:'lines', x:xs, y:ys, xaxis:'x'+n, yaxis:'y'+n, showlegend:false, hoverinfo:'skip',
    line:{color:BLUE, width:1.05, shape:'spline', smoothing:1, dash:dash || 'solid'}});
}
const neg = a => a.map(v => -v);

// symmetric steady rows
[[s1Upper, s1EddyX, s1EddyY, s1AxisX, s1AxisY], [s2Upper, s2EddyX, s2EddyY, s2AxisX, s2AxisY]].forEach((d, r) => {
  const n = 2 + 2 * r;
  d[0].forEach(ys => { addCurve(n, knotX, ys); addCurve(n, knotX, neg(ys)); });
  d[1].forEach((xs, i) => { addCurve(n, xs, d[2][i]); addCurve(n, xs, neg(d[2][i])); });
  d[3].forEach((xs, i) => addCurve(n, xs, d[4][i]));
});
// unsteady rows
[[s3Upper, s3Lower, s3CurvesX, s3CurvesY], [s4Upper, s4Lower, s4CurvesX, s4CurvesY], [s5Upper, s5Lower, s5CurvesX, s5CurvesY]].forEach((d, k) => {
  const n = 2 + 2 * (k + 2);
  d[0].forEach(ys => addCurve(n, knotX, ys));
  d[1].forEach(ys => addCurve(n, knotX, ys));
  d[2].forEach((xs, i) => addCurve(n, xs, d[3][i]));
});
// vorticity
const vort = [[v1NegX, v1NegY, v1PosX, v1PosY], [v2NegX, v2NegY, v2PosX, v2PosY], [v3NegX, v3NegY, v3PosX, v3PosY], [v4NegX, v4NegY, v4PosX, v4PosY], [v5NegX, v5NegY, v5PosX, v5PosY]];
vort.forEach((d, r) => {
  const n = 3 + 2 * r;
  cornerNegX.forEach((xs, i) => addCurve(n, xs, cornerNegY[i], '3px,2px'));
  cornerPosX.forEach((xs, i) => addCurve(n, xs, cornerPosY[i]));
  d[0].forEach((xs, i) => addCurve(n, xs, d[1][i], '3px,2px'));
  d[2].forEach((xs, i) => addCurve(n, xs, d[3][i]));
});
// bodies on top
for (let n = 2; n <= 11; n++) {
  traces.push({type:'scatter', mode:'lines', x:bodyX, y:bodyY, xaxis:'x'+n, yaxis:'y'+n, showlegend:false, hoverinfo:'skip',
    fill:'toself', fillcolor:'#ffffff', line:{color:'#f57a3d', width:1.7}});
}

const layout = {
  width: W, height: H, margin:{l:0, r:0, t:0, b:0}, paper_bgcolor:'#ffffff', plot_bgcolor:'rgba(0,0,0,0)',
  showlegend: true, hovermode: false,
  legend: {x: fx(600), xanchor:'right', y: fy(55), yanchor:'top', xref:'paper', yref:'paper', bgcolor:'rgba(255,255,255,0)',
    borderwidth:0, font:{family:SANS, size:13, color:'#111', weight:'bold'}, itemwidth:60, tracegroupgap:0},
  xaxis: {domain:[fx(166.7), fx(601.7)], range:[250, 350], anchor:'y', tickmode:'array', tickvals:xTickVals,
    ticks:'inside', ticklen:6, tickwidth:1.2, tickcolor:'#333', showline:true, linecolor:'#333', linewidth:1.5, mirror:true,
    showgrid:false, zeroline:false, tickfont:{family:SANS, size:19, color:'#111'}, ticklabelstandoff:2, fixedrange:true,
    minor:{tickmode:'linear', tick0:250, dtick:5, ticks:'inside', ticklen:3, tickcolor:'#333', tickwidth:1}},
  yaxis: {domain:[fy(295), fy(57.3)], range:[-1, 1], anchor:'x', tickmode:'array', tickvals:yTickVals, ticktext:yTickText,
    ticks:'inside', ticklen:6, tickwidth:1.2, tickcolor:'#333', showline:true, linecolor:'#333', linewidth:1.5, mirror:true,
    showgrid:false, zeroline:false, tickfont:{family:SANS, size:19, color:'#111'}, fixedrange:true,
    minor:{tickmode:'linear', tick0:-1, dtick:0.1, ticks:'inside', ticklen:3, tickcolor:'#333', tickwidth:1}},
  annotations: []
};

const rowTopPx = [409, 583, 757, 931, 1104];
const PANEL_H = 157, SCALE = 32.5, YTOP = 2.42;
const leftPx = [49, 381], rightPx = [392, 713];
rowTopPx.forEach((top, r) => {
  const bot = Math.min(top + PANEL_H, H);
  const yr = [YTOP - (bot - top) / SCALE, YTOP];
  const last = (r === rowTopPx.length - 1);
  [[leftPx, -1.46, true], [rightPx, -1.471, false]].forEach((p, j) => {
    const n = 2 + 2 * r + j;
    const xr = [p[1], p[1] + (p[0][1] - p[0][0]) / SCALE];
    layout['xaxis' + n] = {domain:[fx(p[0][0]), fx(p[0][1])], range:xr, anchor:'y' + n, showgrid:false, zeroline:false,
      showticklabels:false, ticks:'', showline:true, linecolor:'#555', linewidth:1.5, mirror:!last, side: last ? 'top' : 'bottom', fixedrange:true};
    layout['yaxis' + n] = {domain:[fy(bot), fy(top)], range:yr, anchor:'x' + n, showgrid:false, zeroline:false,
      showticklabels:false, ticks:'', showline:true, linecolor:'#555', linewidth:1.5, mirror:p[2], fixedrange:true};
  });
  layout.annotations.push({xref:'paper', yref:'paper', x:fx(24), y:fy(top + 81), textangle:-90, showarrow:false,
    xanchor:'center', yanchor:'middle',
    text:'<span style="color:#333">' + rowRoman[r] + '</span>\u00a0\u00a0Re\u00a0\u00a0=\u00a0\u00a0' + rowRe[r],
    font:{family:SERIF, size:17, color:TITLE_BLUE}});
});

layout.annotations.push(
  {xref:'paper', yref:'paper', x:fx(368), y:fy(25), showarrow:false, xanchor:'center', yanchor:'middle',
   text:'(a) <span style="color:' + TITLE_BLUE + '">Lift coefficient</span>', font:{family:SERIF, size:21, color:'#222'}},
  {xref:'paper', yref:'paper', x:fx(210), y:fy(385), showarrow:false, xanchor:'center', yanchor:'middle',
   text:'(b) <span style="color:' + TITLE_BLUE + '">Streamlines</span>', font:{family:SERIF, size:21, color:'#222'}},
  {xref:'paper', yref:'paper', x:fx(555), y:fy(385), showarrow:false, xanchor:'center', yanchor:'middle',
   text:'(c) <span style="color:' + TITLE_BLUE + '">Vorticity Contours</span>', font:{family:SERIF, size:21.5, color:'#222'}},
  {xref:'x', yref:'paper', x:300, y:fy(313), showarrow:false, xanchor:'center', yanchor:'middle',
   text:'<b>\u03c4<sub>t</sub></b>', font:{family:'DejaVu Sans, sans-serif', size:30, color:'#111'}},
  {xref:'paper', yref:'y', x:fx(124), y:0, showarrow:false, xanchor:'center', yanchor:'middle',
   text:'<b>C<sub>L</sub></b>', font:{family:SANS, size:25, color:'#111'}}
);

Plotly.newPlot('chart', traces, layout, {staticPlot:true, displayModeBar:false});
</script>
</body></html>
